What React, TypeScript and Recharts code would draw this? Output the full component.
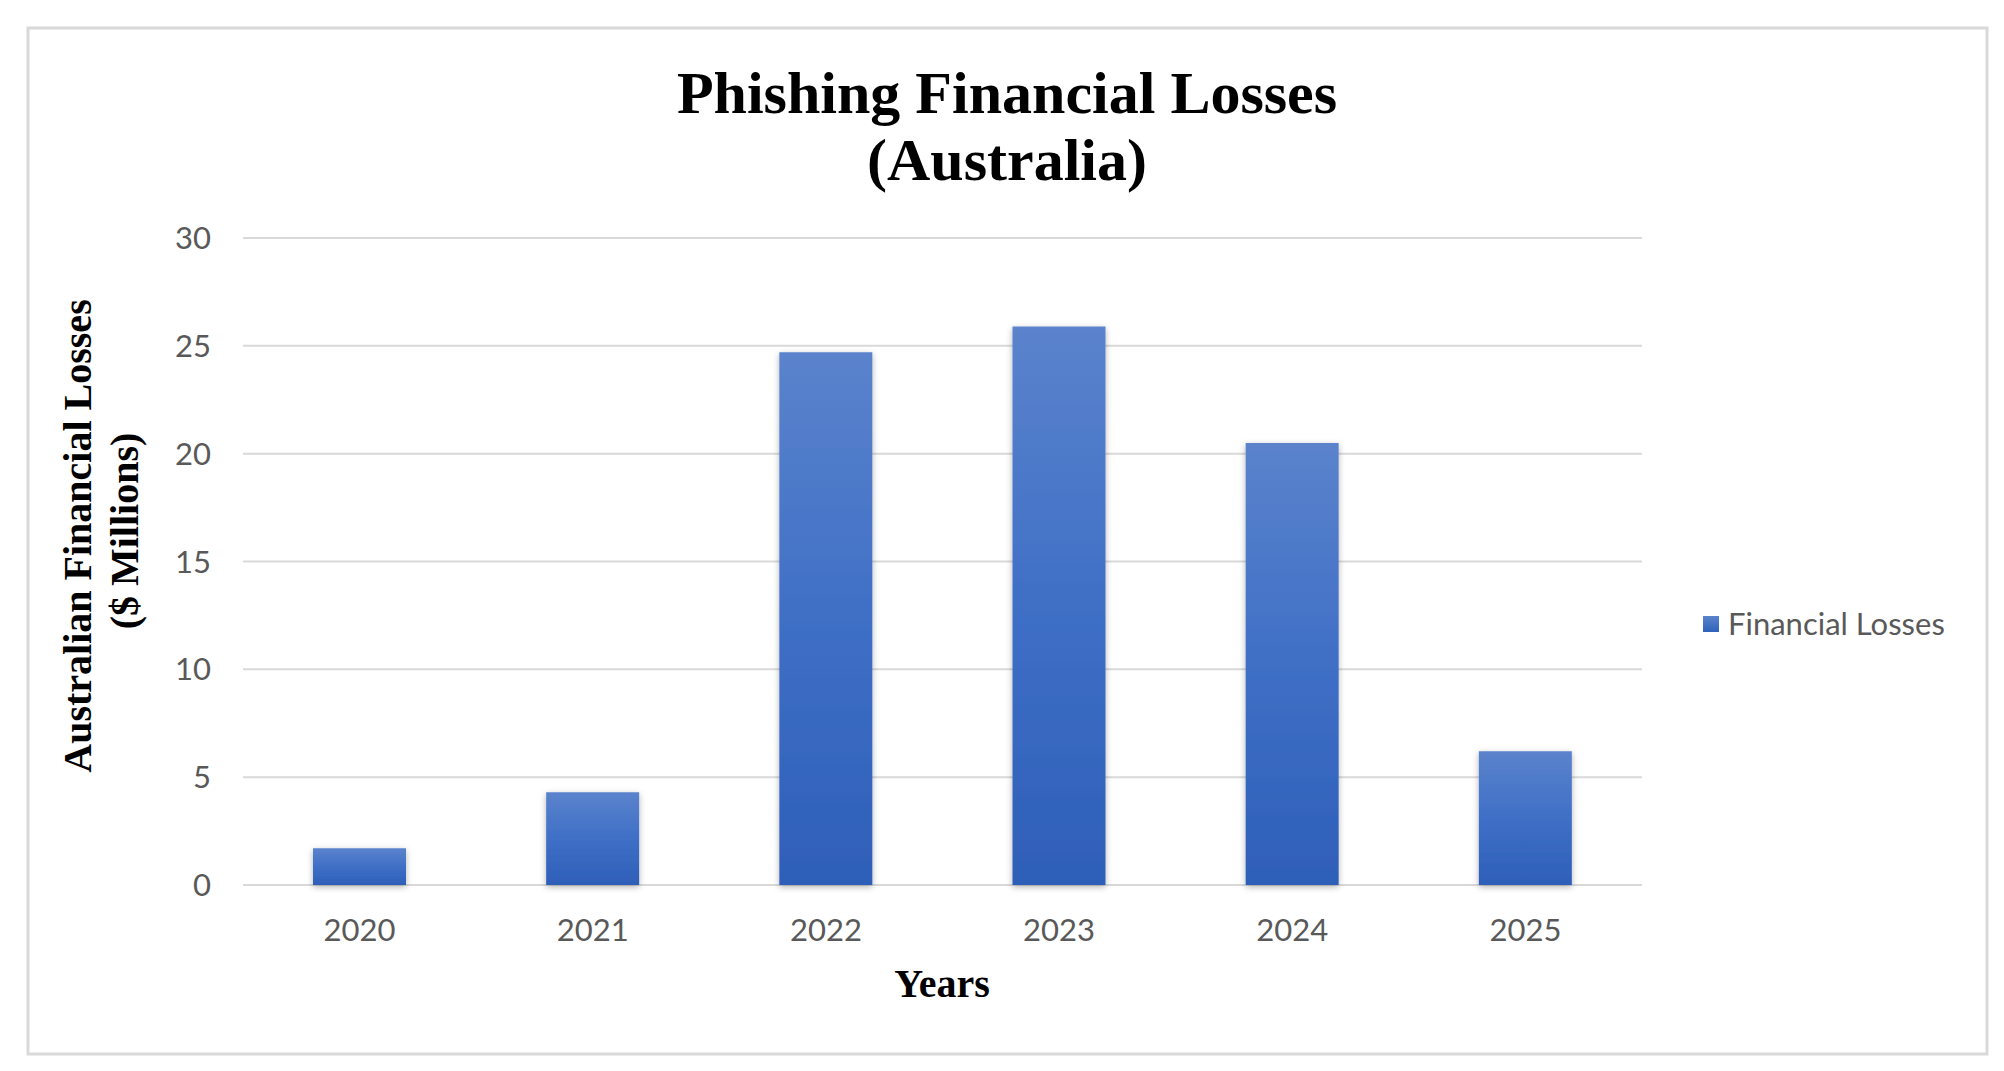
import React from 'react';
import { BarChart, Bar, XAxis, YAxis, CartesianGrid, Legend, Rectangle } from 'recharts';

const years = ['2020', '2021', '2022', '2023', '2024', '2025'];
const losses = [1.7, 4.3, 24.7, 25.9, 20.5, 6.2];
const yTicks = [0, 5, 10, 15, 20, 25, 30];
const seriesName = 'Financial Losses';
const titleLines = ['Phishing Financial Losses', '(Australia)'];
const yTitleLines = ['Australian Financial Losses', '($ Millions)'];
const xTitle = 'Years';

const data = years.map((y, i) => ({ year: y, value: losses[i] }));

const W = 2004;
const H = 1071;
const tickFont = { fontFamily: 'Lato, "Open Sans", sans-serif', fontSize: 31, fill: '#595959' };
const serif = '"Liberation Serif", "Times New Roman", serif';

const BarShape = (props: any) => (
  <Rectangle {...props} fill="url(#barGrad)" filter="url(#barShadow)" />
);

const LegendContent = (props: any) => {
  const items = props.payload || [];
  return (
    <div>
      {items.map((it: any) => (
        <div
          key={it.value}
          style={{
            display: 'flex',
            alignItems: 'center',
            fontFamily: 'Lato, "Open Sans", sans-serif',
            fontSize: 31,
            lineHeight: '31px',
            color: '#595959',
            whiteSpace: 'nowrap',
          }}
        >
          <span
            style={{
              display: 'inline-block',
              width: 16,
              height: 16,
              background: 'linear-gradient(#5b83cc, #2f62ba)',
              marginRight: 9,
            }}
          />
          {it.value}
        </div>
      ))}
    </div>
  );
};

export default function App() {
  return (
    <div style={{ position: 'absolute', left: 0, top: 0, width: W, height: H, background: '#ffffff' }}>
      <svg width={0} height={0} style={{ position: 'absolute' }}>
        <defs>
          <linearGradient id="barGrad" x1="0" y1="0" x2="0" y2="1">
            <stop offset="0%" stopColor="#5b83cc" />
            <stop offset="50%" stopColor="#3f6fc6" />
            <stop offset="100%" stopColor="#2e5fb8" />
          </linearGradient>
          <filter id="barShadow" x="-20%" y="-20%" width="140%" height="140%">
            <feDropShadow dx="0" dy="2" stdDeviation="3" floodColor="#000000" floodOpacity="0.3" />
          </filter>
        </defs>
      </svg>
      <BarChart
        width={W}
        height={H}
        data={data}
        margin={{ top: 238, right: 362, bottom: 126, left: 0 }}
      >
        <CartesianGrid vertical={false} stroke="#d9d9d9" strokeWidth={2} />
        <XAxis
          dataKey="year"
          axisLine={false}
          tickLine={false}
          tickSize={0}
          tickMargin={34}
          height={60}
          tick={tickFont}
          interval={0}
        />
        <YAxis
          domain={[0, 30]}
          ticks={yTicks}
          axisLine={false}
          tickLine={false}
          tickSize={0}
          tickMargin={32}
          width={243}
          tick={tickFont}
        />
        <Legend
          layout="horizontal"
          align="center"
          verticalAlign="middle"
          wrapperStyle={{ left: 1703, top: 608, width: 280 }}
          content={<LegendContent />}
        />
        <Bar
          dataKey="value"
          name={seriesName}
          barSize={93}
          fill="#4472c4"
          shape={BarShape}
          isAnimationActive={false}
        />
      </BarChart>
      <svg
        width={W}
        height={H}
        style={{ position: 'absolute', left: 0, top: 0, pointerEvents: 'none' }}
      >
        <rect x={28} y={28} width={1959} height={1026} fill="none" stroke="#d9d9d9" strokeWidth={3} />
        <text x={1007} y={113} textAnchor="middle" fontFamily={serif} fontWeight="bold" fontSize={60} fill="#000">
          {titleLines[0]}
        </text>
        <text x={1007} y={180} textAnchor="middle" fontFamily={serif} fontWeight="bold" fontSize={60} fill="#000">
          {titleLines[1]}
        </text>
        <text
          x={91}
          y={536}
          transform="rotate(-90 91 536)"
          textAnchor="middle"
          fontFamily={serif}
          fontWeight="bold"
          fontSize={40}
          fill="#000"
        >
          {yTitleLines[0]}
        </text>
        <text
          x={138}
          y={531}
          transform="rotate(-90 138 531)"
          textAnchor="middle"
          fontFamily={serif}
          fontWeight="bold"
          fontSize={40}
          fill="#000"
        >
          {yTitleLines[1]}
        </text>
        <text x={942} y={997} textAnchor="middle" fontFamily={serif} fontWeight="bold" fontSize={40} fill="#000">
          {xTitle}
        </text>
      </svg>
    </div>
  );
}
